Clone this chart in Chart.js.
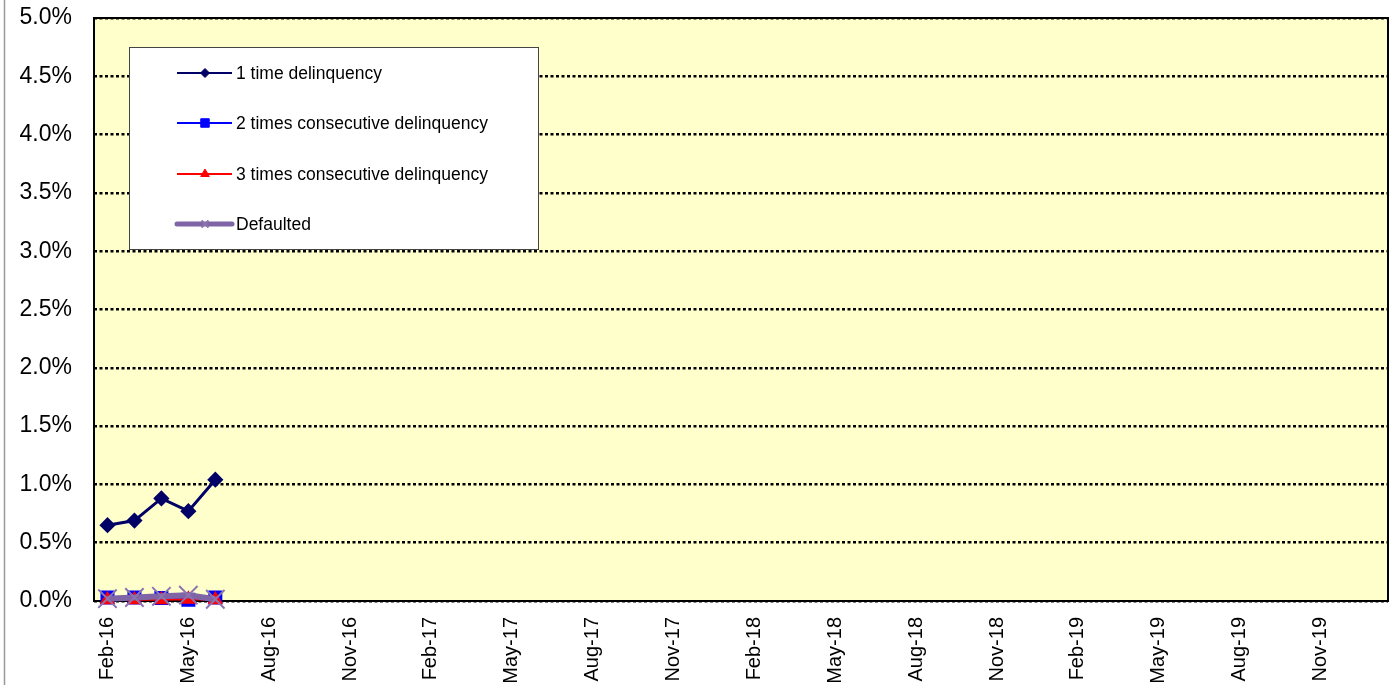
<!DOCTYPE html>
<html>
<head>
<meta charset="utf-8">
<script src="https://cdn.jsdelivr.net/npm/chart.js@4/dist/chart.umd.min.js"></script>
<style>
html,body{margin:0;padding:0;background:#fff;}
#wrap{width:1391px;height:685px;position:relative;}
</style>
</head>
<body>
<div id="wrap"><canvas id="c" width="1391" height="685"></canvas></div>
<script>
const months = ["Feb-16","Mar-16","Apr-16","May-16","Jun-16","Jul-16","Aug-16","Sep-16","Oct-16","Nov-16","Dec-16","Jan-17",
"Feb-17","Mar-17","Apr-17","May-17","Jun-17","Jul-17","Aug-17","Sep-17","Oct-17","Nov-17","Dec-17","Jan-18",
"Feb-18","Mar-18","Apr-18","May-18","Jun-18","Jul-18","Aug-18","Sep-18","Oct-18","Nov-18","Dec-18","Jan-19",
"Feb-19","Mar-19","Apr-19","May-19","Jun-19","Jul-19","Aug-19","Sep-19","Oct-19","Nov-19","Dec-19","Jan-20"];
const oneTime = [0.65, 0.69, 0.88, 0.77, 1.04];
const twoTimes = [0.03, 0.03, 0.025, 0.01, 0.03];
const threeTimes = [0.01, 0.01, 0.01, 0.015, 0.01];
const defaulted = [0.02, 0.03, 0.04, 0.05, 0.015];
const seriesNames = ["1 time delinquency","2 times consecutive delinquency","3 times consecutive delinquency","Defaulted"];

const FONT = "'Liberation Sans', Arial, sans-serif";

const frame = {
  id: 'frame',
  beforeDraw(chart) {
    const {ctx, chartArea: a} = chart;
    ctx.save();
    ctx.fillStyle = '#FFFFCC';
    ctx.fillRect(a.left, a.top, a.right - a.left, a.bottom - a.top);
    ctx.strokeStyle = '#999';
    ctx.lineWidth = 1.5;
    ctx.beginPath(); ctx.moveTo(4.5, 0); ctx.lineTo(4.5, chart.height); ctx.stroke();
    ctx.restore();
  },
  beforeDatasetsDraw(chart) {
    const {ctx, chartArea: a} = chart;
    ctx.save();
    ctx.strokeStyle = '#000';
    ctx.lineWidth = 2;
    ctx.strokeRect(a.left, a.top, a.right - a.left, a.bottom - a.top);
    ctx.restore();
  },
  afterDraw(chart) {
    const {ctx} = chart;
    ctx.save();
    const bx = 129.5, by = 47.5, bw = 409, bh = 202;
    ctx.fillStyle = '#fff';
    ctx.fillRect(bx, by, bw, bh);
    ctx.strokeStyle = '#444';
    ctx.lineWidth = 1;
    ctx.strokeRect(bx, by, bw, bh);
    const rows = [73, 123, 174, 224];
    ctx.font = '17.5px ' + FONT;
    ctx.textBaseline = 'middle';
    chart.data.datasets.forEach((ds, i) => {
      const y = rows[i];
      ctx.strokeStyle = ds.borderColor;
      ctx.lineWidth = i === 3 ? 5 : 2;
      ctx.lineCap = i === 3 ? 'round' : 'butt';
      ctx.beginPath(); ctx.moveTo(177, y); ctx.lineTo(232, y); ctx.stroke();
      ctx.lineCap = 'butt';
      ctx.fillStyle = ds.pointBackgroundColor;
      ctx.strokeStyle = ds.pointBorderColor;
      ctx.lineWidth = i === 3 ? 2 : 1;
      Chart.helpers.drawPoint(ctx, {pointStyle: ds.pointStyle, radius: ds.legendRadius, borderWidth: ctx.lineWidth}, 205, y);
      ctx.fillStyle = '#000';
      ctx.fillText(seriesNames[i], 236, y + 1);
    });
    ctx.restore();
  }
};

new Chart(document.getElementById('c'), {
  type: 'line',
  data: {
    labels: months,
    datasets: [
      {label: seriesNames[0], data: oneTime, borderColor: '#000066', backgroundColor: '#000066',
       pointBackgroundColor: '#000066', pointBorderColor: '#000066', borderWidth: 3,
       pointStyle: 'rectRot', pointRadius: 6, legendRadius: 4.5, order: 1, clip: false},
      {label: seriesNames[1], data: twoTimes, borderColor: '#0000FF', backgroundColor: '#0000FF',
       pointBackgroundColor: '#0000FF', pointBorderColor: '#0000FF', borderWidth: 2,
       pointStyle: 'rect', pointRadius: 8.5, legendRadius: 6, order: 3, clip: false},
      {label: seriesNames[2], data: threeTimes, borderColor: '#FF0000', backgroundColor: '#FF0000',
       pointBackgroundColor: '#FF0000', pointBorderColor: '#FF0000', borderWidth: 2,
       pointStyle: 'triangle', pointRadius: 7, legendRadius: 5, order: 2, clip: false},
      {label: seriesNames[3], data: defaulted, borderColor: '#7F65A5', backgroundColor: '#7F65A5',
       pointBackgroundColor: '#7F65A5', pointBorderColor: '#8B74B0', borderWidth: 6,
       pointStyle: 'crossRot', pointRadius: 13, pointBorderWidth: 2, legendRadius: 5, order: 0, clip: false}
    ]
  },
  options: {
    responsive: false,
    animation: false,
    devicePixelRatio: 1,
    layout: {autoPadding: false, padding: {top: 18, right: 3, left: 0, bottom: 0}},
    plugins: {legend: {display: false}, tooltip: {enabled: false}},
    elements: {line: {tension: 0}},
    scales: {
      x: {
        offset: true,
        grid: {display: false, drawTicks: false},
        border: {display: false},
        ticks: {
          autoSkip: false, minRotation: 90, maxRotation: 90, padding: 16,
          color: '#000', font: {family: FONT, size: 20},
          callback: function(v, i) { return i % 3 === 0 ? months[i] : ''; }
        },
        afterFit(s) { s.height = 84; s.paddingLeft = 0; s.paddingRight = 0; }
      },
      y: {
        min: 0, max: 5,
        grid: {
          drawTicks: false, lineWidth: 2.5, color: '#000',
        },
        border: {display: false, dash: [3, 2.5]},
        ticks: {
          stepSize: 0.5, padding: 22, color: '#000', font: {family: FONT, size: 23},
          callback: v => v.toFixed(1) + '%'
        },
        afterFit(s) { s.width = 94; s.paddingTop = 0; s.paddingBottom = 0; }
      }
    }
  },
  plugins: [frame]
});
</script>
</body>
</html>
